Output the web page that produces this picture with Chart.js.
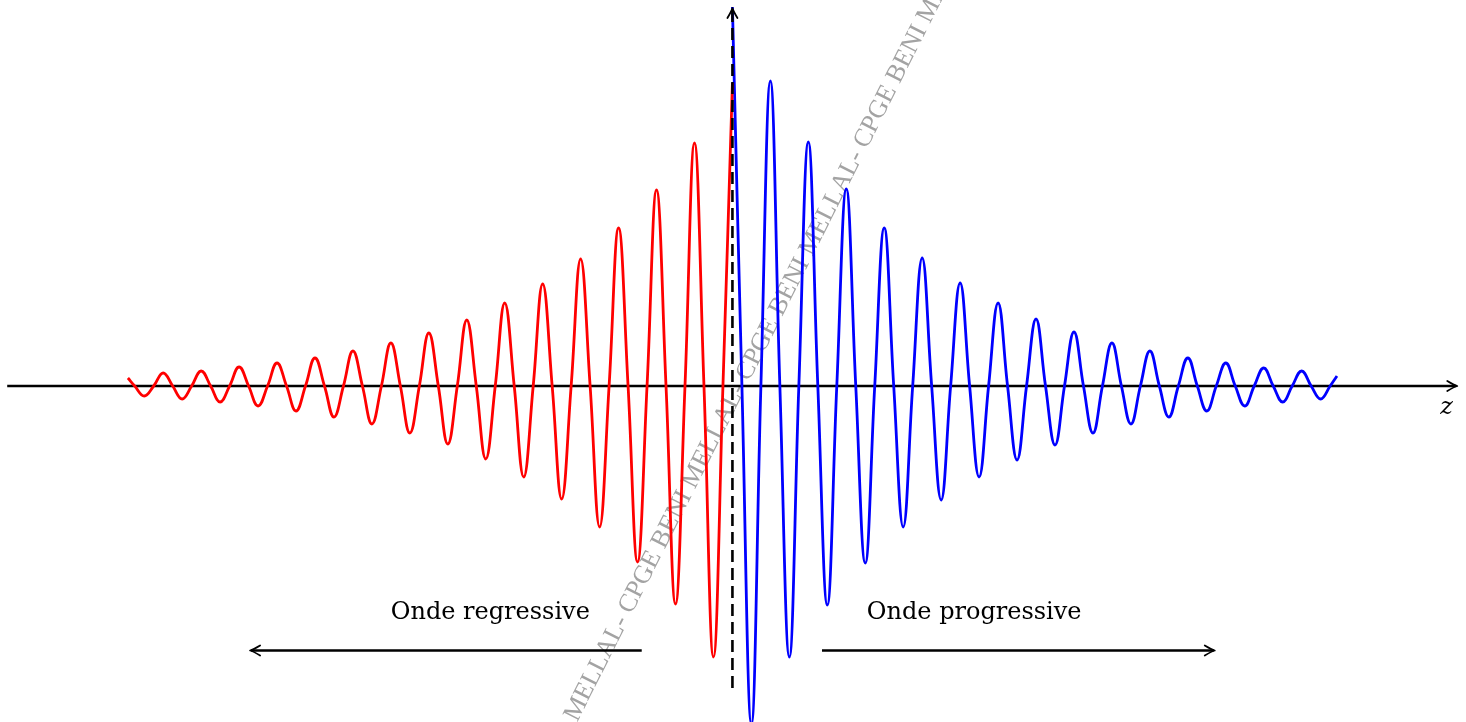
<!DOCTYPE html>
<html>
<head>
<meta charset="utf-8">
<script src="https://cdn.jsdelivr.net/npm/chart.js@4.4.0/dist/chart.umd.min.js"></script>
<style>
  html, body { margin: 0; padding: 0; background: #fff; }
  #wrap { width: 1466px; height: 722px; position: relative; }
</style>
</head>
<body>
<div id="wrap"><canvas id="paquet"></canvas></div>
<script>
// Paquet d'onde : partie progressive (bleu, z > 0) et regressive (rouge, z < 0)
// z en longueurs d'onde, amplitude en unites arbitraires

const zBlue = [0, 0.25, 0.5, 0.75, 1, 1.25, 1.5, 1.75, 2, 2.25, 2.5, 2.75, 3, 3.25, 3.5, 3.75,
  4, 4.25, 4.5, 4.75, 5, 5.25, 5.5, 5.75, 6, 6.25, 6.5, 6.75, 7, 7.25, 7.5, 7.75,
  8, 8.25, 8.5, 8.75, 9, 9.25, 9.5, 9.75, 10, 10.25, 10.5, 10.75, 11, 11.25, 11.5, 11.75,
  12, 12.25, 12.5, 12.75, 13, 13.25, 13.5, 13.75, 14, 14.25, 14.5, 14.75, 15, 15.25, 15.5, 15.75, 15.93];
const yBlue = [3.79, 0, -3.38, 0, 3.05, 0, -2.71, 0, 2.44, 0, -2.19, 0, 1.97, 0, -1.77, 0,
  1.58, 0, -1.41, 0, 1.28, 0, -1.14, 0, 1.03, 0, -0.91, 0, 0.83, 0, -0.74, 0,
  0.67, 0, -0.59, 0, 0.54, 0, -0.47, 0, 0.43, 0, -0.38, 0, 0.35, 0, -0.31, 0,
  0.28, 0, -0.25, 0, 0.23, 0, -0.20, 0, 0.18, 0, -0.16, 0, 0.15, 0, -0.13, 0, 0.10];

const zRed = [-15.93, -15.75, -15.5, -15.25, -15, -14.75, -14.5, -14.25, -14, -13.75, -13.5, -13.25,
  -13, -12.75, -12.5, -12.25, -12, -11.75, -11.5, -11.25, -11, -10.75, -10.5, -10.25,
  -10, -9.75, -9.5, -9.25, -9, -8.75, -8.5, -8.25, -8, -7.75, -7.5, -7.25, -7, -6.75, -6.5, -6.25,
  -6, -5.75, -5.5, -5.25, -5, -4.75, -4.5, -4.25, -4, -3.75, -3.5, -3.25, -3, -2.75, -2.5, -2.25,
  -2, -1.75, -1.5, -1.25, -1, -0.75, -0.5, -0.25, 0];
const yRed = [0.08, 0, -0.10, 0, 0.13, 0, -0.13, 0, 0.15, 0, -0.16, 0,
  0.19, 0, -0.20, 0, 0.23, 0, -0.25, 0, 0.28, 0, -0.31, 0,
  0.35, 0, -0.38, 0, 0.43, 0, -0.47, 0, 0.53, 0, -0.58, 0, 0.66, 0, -0.73, 0,
  0.83, 0, -0.91, 0, 1.02, 0, -1.13, 0, 1.27, 0, -1.41, 0, 1.58, 0, -1.76, 0,
  1.96, 0, -2.18, 0, 2.43, 0, -2.71, 0, 3.03];

// textes
const labelReg = 'Onde regressive';
const labelProg = 'Onde progressive';
const axisLabel = 'z';
const watermark = 'MELLAL- CPGE BENI MELLAL- CPGE BENI MELLAL- CPGE BENI MELLAL- CPGE BENI MELLAL- ';

function toPoints(zs, ys) {
    return zs.map((z, i) => ({ x: z, y: ys[i] }));
}

// petite fleche style TikZ "->"
function arrowHead(ctx, x, y, angle) {
    ctx.save();
    ctx.translate(x, y);
    ctx.rotate(angle);
    ctx.lineWidth = 1.8;
    ctx.lineCap = 'round';
    ctx.lineJoin = 'round';
    ctx.beginPath();
    ctx.moveTo(-10, -5);
    ctx.quadraticCurveTo(-3, -0.8, 0, 0);
    ctx.quadraticCurveTo(-3, 0.8, -10, 5);
    ctx.stroke();
    ctx.restore();
}

const decor = {
    id: 'decor',
    beforeDatasetsDraw(chart) {
        const { ctx, scales: { x, y } } = chart;

        // filigrane (commence par le "M" coupe en bas de la figure)
        ctx.save();
        ctx.translate(x.getPixelForValue(-0.56), y.getPixelForValue(-0.56));
        ctx.rotate(-63.2 * Math.PI / 180);
        ctx.font = '26px "Liberation Serif"';
        ctx.fillStyle = '#a3a3a3';
        ctx.textBaseline = 'middle';
        const skip = ctx.measureText('MELLAL- CPGE BENI ').width;
        ctx.fillText(watermark, -50 - skip, 0);
        ctx.restore();

        // axe horizontal
        ctx.save();
        ctx.strokeStyle = '#000';
        ctx.lineWidth = 2.3;
        const y0 = y.getPixelForValue(0);
        const xa = x.getPixelForValue(-19.11);
        const xb = x.getPixelForValue(19.10);
        ctx.beginPath();
        ctx.moveTo(xa, y0);
        ctx.lineTo(xb - 1, y0);
        ctx.stroke();
        arrowHead(ctx, xb, y0, 0);
        ctx.restore();
    },
    afterDatasetsDraw(chart) {
        const { ctx, scales: { x, y } } = chart;
        ctx.save();
        ctx.strokeStyle = '#000';
        ctx.fillStyle = '#000';

        // axe vertical en tirets
        const x0 = x.getPixelForValue(0);
        const yTop = y.getPixelForValue(3.78);
        ctx.lineWidth = 2.6;
        ctx.setLineDash([12, 6]);
        ctx.beginPath();
        ctx.moveTo(x0, y.getPixelForValue(-3.02));
        ctx.lineTo(x0, yTop + 1);
        ctx.stroke();
        ctx.setLineDash([]);
        arrowHead(ctx, x0, yTop, -Math.PI / 2);

        // fleches de propagation
        const ya = y.getPixelForValue(-2.645);
        ctx.lineWidth = 2.3;
        ctx.beginPath();
        ctx.moveTo(x.getPixelForValue(-2.39), ya);
        ctx.lineTo(x.getPixelForValue(-12.71) + 1, ya);
        ctx.moveTo(x.getPixelForValue(2.36), ya);
        ctx.lineTo(x.getPixelForValue(12.71) - 1, ya);
        ctx.stroke();
        arrowHead(ctx, x.getPixelForValue(-12.71), ya, Math.PI);
        arrowHead(ctx, x.getPixelForValue(12.71), ya, 0);

        // textes
        ctx.font = '24px "DejaVu Serif"';
        ctx.textAlign = 'center';
        ctx.textBaseline = 'alphabetic';
        ctx.fillText(labelReg, x.getPixelForValue(-6.38), y.getPixelForValue(-2.33));
        ctx.fillText(labelProg, x.getPixelForValue(6.37), y.getPixelForValue(-2.33));

        ctx.font = 'italic 24px "DejaVu Serif"';
        ctx.textBaseline = 'middle';
        ctx.fillText(axisLabel, x.getPixelForValue(18.82), y.getPixelForValue(-0.22));
        ctx.restore();
    }
};

new Chart(document.getElementById('paquet'), {
    type: 'line',
    data: {
        datasets: [
            {
                label: 'regressive',
                data: toPoints(zRed, yRed),
                borderColor: '#ff0000',
                borderWidth: 2.8,
                pointRadius: 0,
                tension: 0.42,
                fill: false
            },
            {
                label: 'progressive',
                data: toPoints(zBlue, yBlue),
                borderColor: '#0000ff',
                borderWidth: 2.8,
                pointRadius: 0,
                tension: 0.42,
                fill: false
            }
        ]
    },
    options: {
        responsive: true,
        maintainAspectRatio: false,
        animation: false,
        layout: { padding: 0 },
        plugins: {
            legend: { display: false },
            title: { display: false },
            tooltip: { enabled: false }
        },
        scales: {
            x: { type: 'linear', min: -19.30, max: 19.33, display: false },
            y: { type: 'linear', min: -3.36, max: 3.86, display: false }
        }
    },
    plugins: [decor]
});
</script>
</body>
</html>
